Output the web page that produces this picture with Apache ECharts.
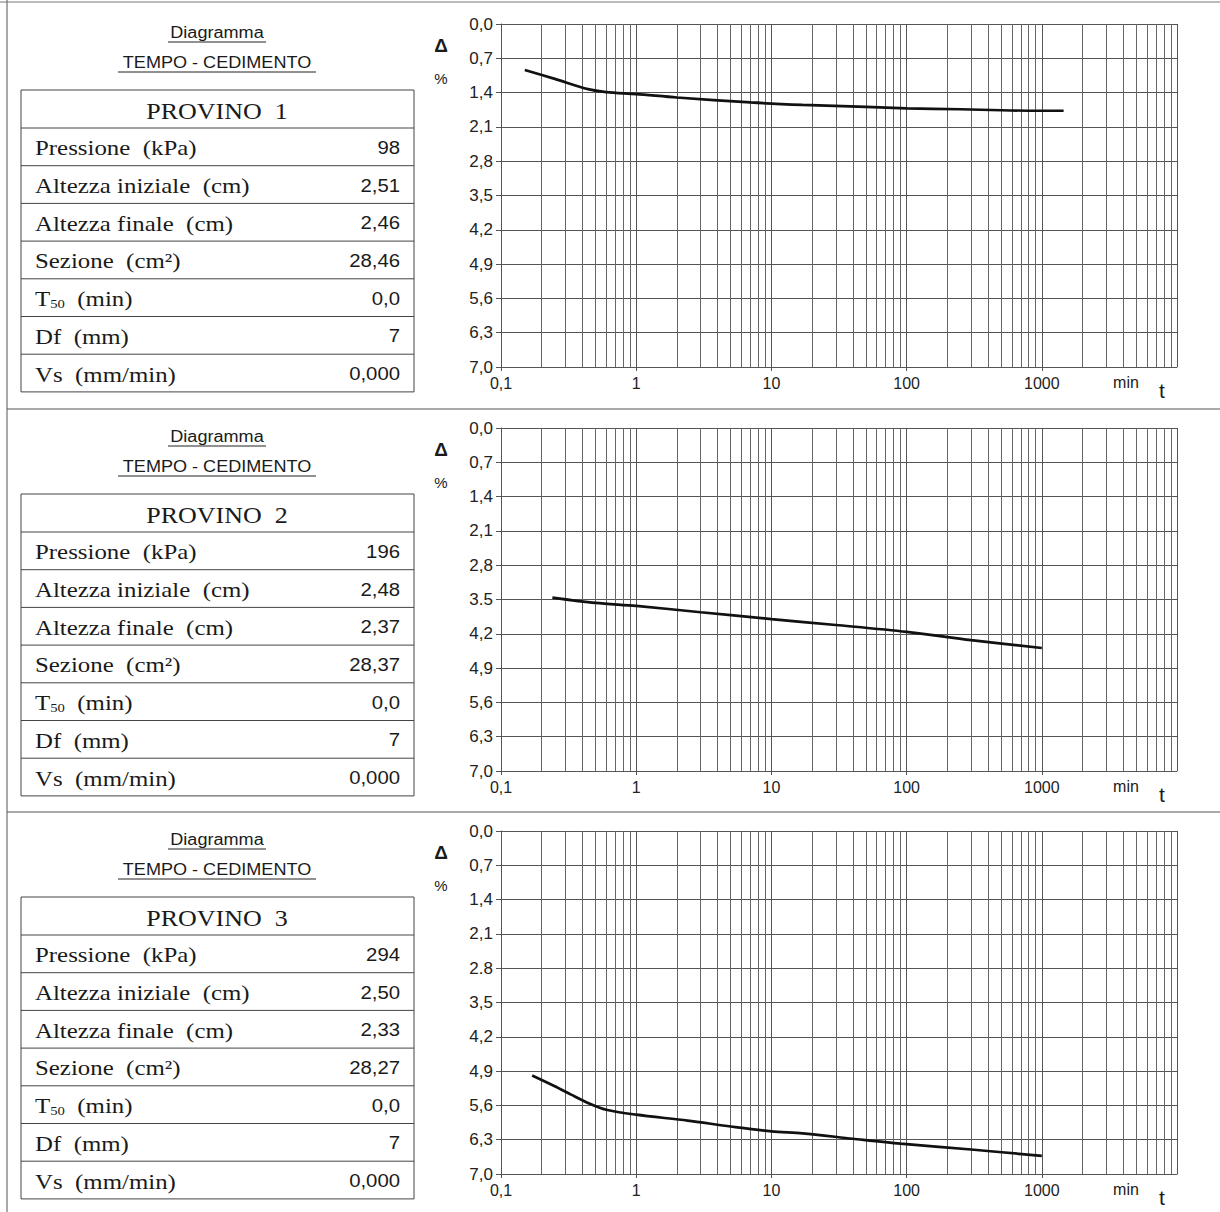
<!DOCTYPE html>
<html><head><meta charset="utf-8">
<script src="https://cdn.jsdelivr.net/npm/echarts@6/dist/echarts.min.js"></script>
<style>html,body{margin:0;padding:0;background:#fff}#c{width:1220px;height:1212px}</style>
</head><body><div id="c"></div>
<script>
// ---------- data ----------
const xTickLabels = ['0,1', '1', '10', '100', '1000', ''];
const yTickLabels1 = ['0,0','0,7','1,4','2,1','2,8','3,5','4,2','4,9','5,6','6,3','7,0'];
const yTickLabels2 = ['0,0','0,7','1,4','2,1','2,8','3.5','4,2','4,9','5,6','6,3','7,0'];
const yTickLabels3 = ['0,0','0,7','1,4','2,1','2.8','3,5','4,2','4,9','5,6','6,3','7,0'];

// time (min) and settlement (%)
const time1   = [0.15, 0.25, 0.44, 0.6, 1, 2, 7, 17, 50, 100, 250, 500, 930, 1450];
const settle1 = [0.94, 1.12, 1.33, 1.39, 1.43, 1.50, 1.60, 1.65, 1.69, 1.72, 1.74, 1.76, 1.77, 1.77];
const time2   = [0.24, 0.5, 1, 3, 10, 30, 100, 300, 1000];
const settle2 = [3.46, 3.57, 3.63, 3.76, 3.90, 4.02, 4.16, 4.33, 4.49];
const time3   = [0.17, 0.25, 0.33, 0.44, 0.6, 1, 2.4, 5, 10, 17, 40, 90, 300, 1000];
const settle3 = [4.99, 5.21, 5.38, 5.55, 5.69, 5.79, 5.91, 6.03, 6.13, 6.17, 6.28, 6.38, 6.50, 6.63];

const titleLine1 = 'Diagramma';
const titleLine2 = 'TEMPO - CEDIMENTO';
const provini = ['PROVINO  1', 'PROVINO  2', 'PROVINO  3'];
const rowLabels = ['Pressione  (kPa)', 'Altezza iniziale  (cm)', 'Altezza finale  (cm)', 'Sezione  (cm²)', 'T50  (min)', 'Df  (mm)', 'Vs  (mm/min)'];
const values1 = ['98', '2,51', '2,46', '28,46', '0,0', '7', '0,000'];
const values2 = ['196', '2,48', '2,37', '28,37', '0,0', '7', '0,000'];
const values3 = ['294', '2,50', '2,33', '28,27', '0,0', '7', '0,000'];

// ---------- layout ----------
const yTickSets = [yTickLabels1, yTickLabels2, yTickLabels3];
const times = [time1, time2, time3];
const settles = [settle1, settle2, settle3];
const valueSets = [values1, values2, values3];
const offsets = [0, 404, 807];
const gridColor = '#555';
const SANS = '"Liberation Sans", Arial, sans-serif';
const SERIF = '"Liberation Serif", "Times New Roman", serif';
const SX = 1.13;

const minorGrid = [];
[0.1, 1, 10, 100, 1000].forEach(d => { for (let k = 2; k <= 9; k++) minorGrid.push(+(d * k).toPrecision(3)); });

const grids = [], xAxes = [], yAxes = [], series = [], gfx = [];

// page frame
gfx.push({type:'line', shape:{x1:7, y1:0, x2:7, y2:1212}, style:{stroke:'#555', lineWidth:1}});
gfx.push({type:'line', shape:{x1:0, y1:2, x2:1220, y2:2}, style:{stroke:'#777', lineWidth:1}});
gfx.push({type:'line', shape:{x1:7, y1:409, x2:1220, y2:409}, style:{stroke:'#555', lineWidth:1}});
gfx.push({type:'line', shape:{x1:7, y1:812, x2:1220, y2:812}, style:{stroke:'#555', lineWidth:1}});

function txt(x, y, text, font, size, align, extra) {
  return Object.assign({type:'text', x:x, y:y, scaleX:SX,
    style:{text:text, fontFamily:font, fontSize:size, fill:'#1a1a1a', textAlign:align, textVerticalAlign:'middle'}}, extra || {});
}

for (let i = 0; i < 3; i++) {
  const o = offsets[i];
  const labels = yTickSets[i];
  grids.push({left:501, right:43, top:24 + o, height:343});
  xAxes.push({
    type:'log', gridIndex:i, logBase:10, min:0.1, max:10000,
    axisLine:{show:true, onZero:false, lineStyle:{color:gridColor, width:1}},
    axisTick:{show:true, length:4, lineStyle:{color:gridColor}},
    axisLabel:{show:true, showMaxLabel:false, fontSize:16, color:'#222', fontFamily:SANS, margin:8,
      formatter:(v) => { const k = Math.round(Math.log10(v)) + 1; return xTickLabels[k] || ''; }},
    splitLine:{show:true, lineStyle:{color:gridColor, width:1}}
  });
  yAxes.push({
    type:'value', gridIndex:i, inverse:true, min:0, max:7, interval:0.7,
    axisLine:{show:true, onZero:false, lineStyle:{color:gridColor, width:1}},
    axisTick:{show:true, length:5, lineStyle:{color:gridColor}},
    axisLabel:{fontSize:17, color:'#222', fontFamily:SANS, margin:8,
      formatter:(v) => labels[Math.round(v / 0.7)] || ''},
    splitLine:{show:true, lineStyle:{color:gridColor, width:1}}
  });
  series.push({
    type:'line', xAxisIndex:i, yAxisIndex:i, data:[], silent:true, z:1,
    markLine:{silent:true, symbol:['none','none'], label:{show:false}, emphasis:{disabled:true},
      lineStyle:{color:'#666', width:1, type:'solid'},
      data:minorGrid.map(v => ({xAxis:v}))}
  });
  series.push({
    type:'line', xAxisIndex:i, yAxisIndex:i, z:5, smooth:0.3, showSymbol:false, silent:true,
    lineStyle:{color:'#111', width:2.7},
    data:times[i].map((t, j) => [t, settles[i][j]])
  });

  // axis annotations
  gfx.push({type:'text', x:441, y:45 + o, style:{text:'Δ', fontFamily:SANS, fontSize:19, fontWeight:'bold', fill:'#1a1a1a', textAlign:'center', textVerticalAlign:'middle'}});
  gfx.push({type:'text', x:441, y:78 + o, style:{text:'%', fontFamily:SANS, fontSize:15, fill:'#1a1a1a', textAlign:'center', textVerticalAlign:'middle'}});
  gfx.push({type:'text', x:1126, y:382 + o, style:{text:'min', fontFamily:SANS, fontSize:16, fill:'#1a1a1a', textAlign:'center', textVerticalAlign:'middle'}});
  gfx.push({type:'text', x:1162, y:390 + o, style:{text:'t', fontFamily:SANS, fontSize:21, fill:'#1a1a1a', textAlign:'center', textVerticalAlign:'middle'}});

  // titles
  gfx.push(txt(217, 33 + o, titleLine1, SANS, 16, 'center'));
  gfx.push({type:'line', shape:{x1:168, y1:42 + o, x2:266, y2:42 + o}, style:{stroke:'#222', lineWidth:1}});
  gfx.push(txt(217, 63 + o, titleLine2, SANS, 16, 'center'));
  gfx.push({type:'line', shape:{x1:118, y1:72 + o, x2:316, y2:72 + o}, style:{stroke:'#222', lineWidth:1}});

  // table
  const top = 90 + o, L = 21, R = 414, hh = 38, rh = 37.7;
  const bottom = top + hh + rh * 7;
  gfx.push({type:'rect', shape:{x:L, y:top, width:R - L, height:bottom - top}, style:{fill:'none', stroke:'#444', lineWidth:1}});
  for (let r = 0; r < 7; r++) {
    const yl = top + hh + rh * r;
    gfx.push({type:'line', shape:{x1:L, y1:yl, x2:R, y2:yl}, style:{stroke:'#444', lineWidth:1}});
  }
  gfx.push(txt(217, top + hh / 2 + 2, provini[i], SERIF, 23, 'center'));
  for (let r = 0; r < 7; r++) {
    const yc = top + hh + rh * r + rh / 2 + 1;
    if (r === 4) {
      gfx.push({type:'text', x:35, y:yc, scaleX:SX, style:{
        text:'{t|T}{s|50}{t|  (min)}', fontFamily:SERIF, fill:'#1a1a1a', textAlign:'left', textVerticalAlign:'middle',
        rich:{t:{fontFamily:SERIF, fontSize:22, lineHeight:24, fill:'#1a1a1a'},
              s:{fontFamily:SERIF, fontSize:13, lineHeight:24, verticalAlign:'bottom', fill:'#1a1a1a'}}}});
    } else {
      gfx.push(txt(35, yc, rowLabels[r], SERIF, 22, 'left'));
    }
    gfx.push(txt(400, yc, valueSets[i][r], SANS, 18, 'right'));
  }
}

const chart = echarts.init(document.getElementById('c'), null, {renderer:'svg'});
chart.setOption({
  animation:false,
  backgroundColor:'#fff',
  grid:grids, xAxis:xAxes, yAxis:yAxes, series:series,
  graphic:{elements:gfx}
});
</script>
</body></html>
